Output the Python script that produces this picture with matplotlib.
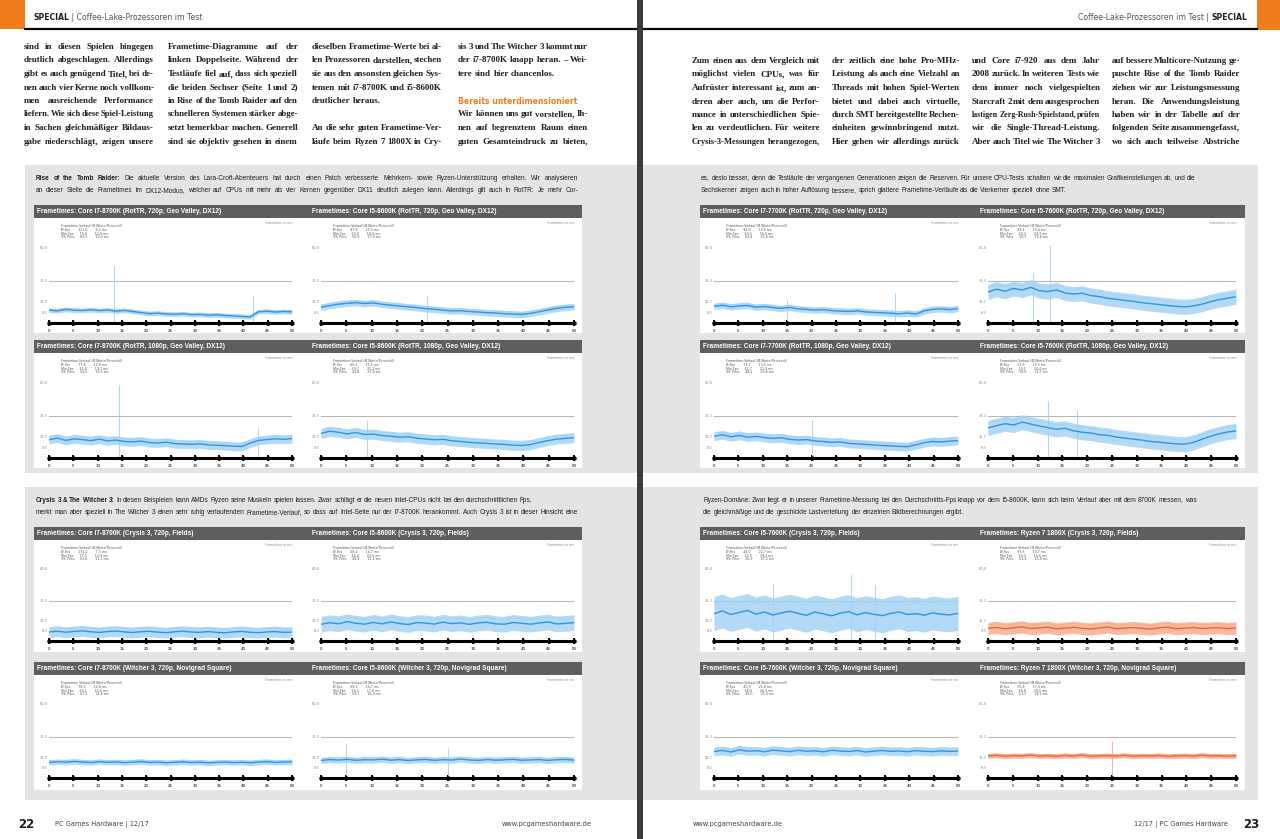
import matplotlib
matplotlib.use("Agg")
import matplotlib.pyplot as plt
from matplotlib.patches import Rectangle
import numpy as np

W, H = 1280, 839

# Colors
pcgh_orange = "#f07d1b"
bar_grey = "#5e5e5e"
box_grey = "#e4e4e4"
text_dark = "#1e1e1e"
blue_core = "#2f95e0"
blue_band = "#9fd0f4"
ryzen_core = "#ee6532"
ryzen_band = "#f7a88b"

# Frametimes in ms, 30 samples over the 50 s benchmark run
run_seconds = 50
time_ticks = [0, 5, 10, 15, 20, 25, 30, 35, 40, 45, 50]
ytick_ms = [8.3, 16.7, 33.3, 60.0]

rottr720_8700k = [10.2, 9.6, 10.8, 10.1, 9.9, 10.5, 9.8, 10.3, 9.4, 10.0, 9.1, 8.2, 7.4, 7.8, 7.1,
                  6.9, 7.3, 6.6, 6.8, 6.2, 6.5, 5.9, 5.6, 5.2, 4.8, 8.9, 9.3, 8.7, 9.1, 8.8]
rottr720_8600k = [12.5, 13.8, 14.9, 15.6, 16.2, 15.4, 15.9, 14.8, 14.1, 13.5, 12.8, 12.2, 11.4, 10.9, 10.2,
                  9.6, 9.8, 9.1, 8.7, 8.2, 7.9, 7.4, 7.1, 6.8, 7.6, 8.9, 10.3, 11.6, 12.4, 12.9]
rottr1080_8700k = [14.5, 15.8, 13.9, 15.2, 14.6, 13.8, 14.9, 13.6, 14.2, 13.1, 12.8, 13.4, 12.2, 11.9, 12.5,
                   11.4, 11.1, 10.8, 11.3, 10.4, 10.1, 9.8, 9.4, 9.1, 11.8, 13.9, 14.6, 15.2, 14.8, 15.4]
rottr1080_8600k = [19.5, 21.2, 20.4, 19.1, 20.2, 18.6, 18.9, 17.8, 17.2, 16.5, 16.9, 15.6, 15.1, 14.4, 14.8,
                   13.6, 13.1, 12.4, 12.0, 11.6, 11.1, 10.8, 10.2, 9.9, 10.6, 12.3, 13.8, 14.9, 15.6, 16.1]
rottr720_7700k = [13.2, 14.1, 12.8, 13.6, 13.9, 12.5, 13.1, 12.2, 11.6, 12.4, 11.2, 10.8, 10.2, 10.6, 9.8,
                  9.4, 9.1, 9.6, 8.8, 8.4, 8.1, 7.8, 7.3, 7.9, 7.1, 9.6, 10.8, 11.2, 10.6, 11.4]
rottr720_7600k = [24.5, 26.8, 25.2, 27.4, 26.1, 28.3, 25.6, 24.9, 26.2, 23.8, 22.9, 23.6, 21.8, 20.9, 19.6,
                  18.8, 17.9, 17.2, 16.1, 15.4, 14.6, 13.9, 13.2, 12.8, 13.5, 14.9, 16.8, 18.4, 19.6, 20.8]
rottr1080_7700k = [17.2, 18.4, 16.8, 17.9, 16.5, 17.1, 16.2, 15.6, 16.0, 14.8, 14.2, 14.6, 13.5, 13.1, 12.4,
                   12.8, 11.6, 11.2, 10.8, 10.4, 9.9, 9.6, 9.2, 9.0, 10.5, 12.2, 13.1, 12.7, 13.4, 13.8]
rottr1080_7600k = [23.8, 25.6, 27.2, 26.1, 28.4, 26.9, 25.3, 24.1, 22.8, 23.5, 21.6, 20.4, 19.8, 18.5, 17.9,
                   16.6, 15.8, 14.9, 14.2, 13.1, 12.6, 11.8, 11.2, 10.9, 12.4, 14.8, 17.2, 19.1, 20.6, 21.4]
crysis_8700k = [7.4, 8.1, 7.2, 7.9, 8.4, 7.6, 7.1, 7.8, 8.2, 7.5, 7.0, 7.7, 8.0, 7.3, 6.9,
                7.6, 8.1, 7.4, 7.2, 7.8, 7.1, 6.8, 7.5, 7.9, 7.2, 6.9, 7.4, 7.8, 7.1, 7.3]
crysis_8600k = [13.8, 15.1, 14.2, 16.0, 14.6, 13.9, 15.4, 14.1, 15.8, 14.4, 13.6, 15.2, 14.8, 13.9, 15.6,
                14.3, 15.0, 13.7, 14.9, 15.5, 14.2, 13.8, 15.3, 14.6, 13.9, 14.8, 15.7, 14.1, 14.5, 15.2]
crysis_7600k = [22.5, 24.8, 21.9, 23.6, 25.2, 22.1, 24.0, 21.4, 23.1, 24.6, 22.8, 21.2, 23.9, 22.4, 20.8,
                22.9, 24.3, 21.6, 23.4, 22.0, 20.9, 22.7, 24.1, 21.8, 22.6, 21.3, 23.2, 22.1, 21.5, 22.8]
crysis_1800x = [10.4, 11.2, 10.1, 10.9, 11.6, 10.3, 10.8, 11.4, 10.0, 10.7, 11.3, 10.5, 9.9, 10.8, 11.5,
                10.2, 10.6, 11.1, 10.4, 9.8, 10.9, 11.4, 10.1, 10.6, 11.2, 10.3, 10.7, 11.0, 10.2, 10.8]
witcher_8700k = [12.6, 13.1, 12.8, 13.4, 12.9, 12.5, 13.2, 12.7, 13.0, 12.4, 12.8, 13.3, 12.6, 12.9, 12.3,
                 12.7, 13.1, 12.5, 12.8, 12.2, 12.6, 12.9, 12.4, 12.7, 12.3, 12.8, 13.2, 12.6, 12.9, 13.1]
witcher_8600k = [14.2, 14.9, 14.5, 15.1, 14.3, 14.8, 14.6, 15.2, 14.4, 14.9, 14.1, 14.7, 15.0, 14.3, 14.8,
                 14.5, 15.3, 14.6, 14.2, 14.9, 14.4, 14.7, 15.1, 14.3, 14.6, 14.9, 14.2, 14.8, 15.0, 14.5]
witcher_7600k = [21.4, 22.3, 21.0, 22.8, 21.7, 22.1, 21.2, 22.6, 21.9, 21.3, 22.4, 21.6, 22.0, 21.1, 22.5,
                 21.8, 21.4, 22.2, 21.0, 21.7, 22.3, 21.5, 21.9, 21.2, 22.1, 21.6, 21.3, 22.0, 21.5, 21.8]
witcher_1800x = [17.8, 18.3, 17.6, 18.1, 17.9, 18.4, 17.7, 18.0, 17.5, 18.2, 17.8, 18.5, 17.6, 17.9, 18.1,
                 17.7, 18.3, 17.6, 18.0, 17.8, 18.2, 17.5, 17.9, 18.1, 17.7, 18.4, 17.8, 18.0, 17.6, 17.9]

# single frametime spikes: (second, ms)
spikes_rottr720_8700k = [(13.3, 45), (42.0, 21)]
spikes_rottr720_8600k = [(21.0, 22)]
spikes_rottr1080_8700k = [(14.5, 58), (43.0, 24)]
spikes_rottr1080_8600k = [(9.0, 30)]
spikes_rottr720_7700k = [(15.0, 18), (37.0, 24)]
spikes_rottr720_7600k = [(12.5, 62), (9.0, 40)]
spikes_rottr1080_7700k = [(20.0, 30)]
spikes_rottr1080_7600k = [(12.0, 45), (18.0, 38)]
spikes_crysis_7600k = [(12.0, 48), (28.0, 55), (33.0, 46)]
spikes_witcher_8600k = [(5.0, 28), (25.0, 24)]
spikes_witcher_1800x = [(25.0, 30)]

# ---------------------------------------------------------------- text
header_left = [("SPECIAL", "bold", text_dark), (" | Coffee-Lake-Prozessoren im Test", "normal", "#555555")]
header_right = [("Coffee-Lake-Prozessoren im Test | ", "normal", "#555555"), ("SPECIAL", "bold", text_dark)]

body_left = [
    ["sind in diesen Spielen hingegen",
     "deutlich abgeschlagen. Allerdings",
     "gibt es auch genügend Titel, bei de-",
     "nen auch vier Kerne noch vollkom-",
     "men ausreichende Performance",
     "liefern. Wie sich diese Spiel-Leistung",
     "in Sachen gleichmäßiger Bildaus-",
     "gabe niederschlägt, zeigen unsere"],
    ["Frametime-Diagramme auf der",
     "linken Doppelseite. Während der",
     "Testläufe fiel auf, dass sich speziell",
     "die beiden Sechser (Seite 1 und 2)",
     "in Rise of the Tomb Raider auf den",
     "schnelleren Systemen stärker abge-",
     "setzt bemerkbar machen. Generell",
     "sind sie objektiv gesehen in einem"],
    ["dieselben Frametime-Werte bei al-",
     "len Prozessoren darstellen, stechen",
     "sie aus den ansonsten gleichen Sys-",
     "temen mit i7-8700K und i5-8600K",
     "deutlicher heraus.",
     "",
     "An die sehr guten Frametime-Ver-",
     "läufe beim Ryzen 7 1800X in Cry-"],
    ["sis 3 und The Witcher 3 kommt nur",
     "der i7-8700K knapp heran. – Wei-",
     "tere sind hier chancenlos.",
     "",
     "#Bereits unterdimensioniert",
     "Wir können uns gut vorstellen, Ih-",
     "nen auf begrenztem Raum einen",
     "guten Gesamteindruck zu bieten,"],
]
body_right = [
    ["Zum einen aus dem Vergleich mit",
     "möglichst vielen CPUs, was für",
     "Aufrüster interessant ist, zum an-",
     "deren aber auch, um die Perfor-",
     "mance in unterschiedlichen Spie-",
     "len zu verdeutlichen. Für weitere",
     "Crysis-3-Messungen herangezogen,"],
    ["der zeitlich eine hohe Pro-MHz-",
     "Leistung als auch eine Vielzahl an",
     "Threads mit hohen Spiel-Werten",
     "bietet und dabei auch virtuelle,",
     "durch SMT bereitgestellte Rechen-",
     "einheiten gewinnbringend nutzt.",
     "Hier gehen wir allerdings zurück"],
    ["und Core i7-920 aus dem Jahr",
     "2008 zurück. In weiteren Tests wie",
     "dem immer noch vielgespielten",
     "Starcraft 2 mit dem ausgesprochen",
     "lastigen Zerg-Rush-Spielstand, prüfen",
     "wir die Single-Thread-Leistung.",
     "Aber auch Titel wie The Witcher 3"],
    ["auf bessere Multicore-Nutzung ge-",
     "puschte Rise of the Tomb Raider",
     "ziehen wir zur Leistungsmessung",
     "heran. Die Anwendungsleistung",
     "haben wir in der Tabelle auf der",
     "folgenden Seite zusammengefasst,",
     "wo sich auch teilweise Abstriche"],
]

cap_rottr_left = [
    [("Rise of the Tomb Raider:", "bold"),
     (" Die aktuelle Version des Lara-Croft-Abenteuers hat durch einen Patch verbesserte Mehrkern- sowie Ryzen-Unterstützung erhalten. Wir analysieren", "normal")],
    [("an dieser Stelle die Frametimes im DX12-Modus, welcher auf CPUs mit mehr als vier Kernen gegenüber DX11 deutlich zulegen kann. Allerdings gilt auch in RotTR: Je mehr Cor-", "normal")],
]
cap_rottr_right = [
    [("es, desto besser, denn die Testläufe der vergangenen Generationen zeigen die Reserven. Für unsere CPU-Tests schalten wir die maximalen Grafikeinstellungen ab, und die", "normal")],
    [("Sechskerner zeigen auch in hoher Auflösung bessere, sprich glattere Frametime-Verläufe als die Vierkerner speziell ohne SMT.", "normal")],
]
cap_crysis_left = [
    [("Crysis 3 & The Witcher 3:", "bold"),
     (" In diesen Beispielen kann AMDs Ryzen seine Muskeln spielen lassen. Zwar schlägt er die neuen Intel-CPUs nicht bei den durchschnittlichen Fps,", "normal")],
    [("merkt man aber speziell in The Witcher 3 einen sehr ruhig verlaufenden Frametime-Verlauf, so dass auf Intel-Seite nur der i7-8700K herankommt. Auch Crysis 3 ist in dieser Hinsicht eine", "normal")],
]
cap_crysis_right = [
    [("Ryzen-Domäne: Zwar liegt er in unserer Frametime-Messung bei den Durchschnitts-Fps knapp vor dem i5-8600K, kann sich beim Verlauf aber mit dem 8700K messen, was", "normal")],
    [("die gleichmäßige und die geschickte Lastverteilung der einzelnen Bildberechnungen ergibt.", "normal")],
]

# ---------------------------------------------------------------- figure
fig = plt.figure(figsize=(W / 100, H / 100), dpi=100)
fig.patch.set_facecolor("white")
bg = fig.add_axes([0, 0, 1, 1], zorder=0)
bg.set_xlim(0, W)
bg.set_ylim(H, 0)
bg.axis("off")
renderer = fig.canvas.get_renderer()


def rect(x0, y0, x1, y1, color, z=1):
    bg.add_patch(Rectangle((x0, y0), x1 - x0, y1 - y0, facecolor=color, edgecolor="none", zorder=z))


def width_of(artist):
    return artist.get_window_extent(renderer).width


def run(x, y, parts, size, family="DejaVu Sans", ha="left"):
    """Draw text pieces with different weights one after another."""
    arts = [bg.text(0, y, s, fontsize=size, family=family, weight=wt, color=col, va="center", zorder=5)
            for s, wt, col in parts]
    widths = [width_of(a) for a in arts]
    if ha == "right":
        x = x - sum(widths)
    for a, w in zip(arts, widths):
        a.set_x(x)
        x += w


def justify(x0, x1, y, segments, size, family, color=text_dark, min_fill=0.8):
    words = []
    for seg, wt in segments:
        for w in seg.split():
            words.append((w, wt))
    arts = [bg.text(x0, y, w, fontsize=size, family=family, weight=wt, color=color, va="center", zorder=5)
            for w, wt in words]
    space = size * 100 / 72 * 0.26
    widths = [width_of(a) for a in arts]
    while sum(widths) + 0.35 * space * (len(arts) - 1) > x1 - x0 and size > 2.5:
        size *= 0.98
        space = size * 100 / 72 * 0.26
        for a in arts:
            a.set_fontsize(size)
        widths = [width_of(a) for a in arts]
    natural = sum(widths) + space * (len(arts) - 1)
    if len(arts) > 1 and natural >= min_fill * (x1 - x0):
        gap = (x1 - x0 - sum(widths)) / (len(arts) - 1)
    else:
        gap = space
    x = x0
    for a, w in zip(arts, widths):
        a.set_x(x)
        x += w + gap


# page frame: orange corners, header rules, centre fold
rect(0, 0, 25, 29, pcgh_orange)
rect(1257, 0, W, 30, pcgh_orange)
bg.plot([25, 637], [29, 29], color="black", lw=1.6, zorder=2)
bg.plot([643, 1257], [29, 29], color="black", lw=1.6, zorder=2)
rect(637, 0, 643, H, "#3c3c3c", z=3)
run(33, 18, header_left, 5.6)
run(1247, 18, header_right, 5.6, ha="right")

# body text columns
cols_left = [(24, 154), (168, 298), (312, 442), (458, 588)]
cols_right = [(692, 820), (832, 960), (972, 1100), (1112, 1240)]
for (cx0, cx1), lines in zip(cols_left, body_left):
    for i, line in enumerate(lines):
        y = 47 + i * 13.5
        if line.startswith("#"):
            bg.text(cx0, y, line[1:], fontsize=5.6, family="DejaVu Sans", weight="bold",
                    color=pcgh_orange, va="center")
        elif line:
            justify(cx0, cx1, y, [(line, "bold")], 6.5, "Liberation Serif")
for (cx0, cx1), lines in zip(cols_right, body_right):
    for i, line in enumerate(lines):
        justify(cx0, cx1, 61 + i * 13.5, [(line, "bold")], 6.5, "Liberation Serif")

# grey info boxes
rect(25, 165, 637, 473, box_grey)
rect(25, 487, 637, 800, box_grey)
rect(643, 165, 1258, 473, box_grey)
rect(643, 487, 1258, 800, box_grey)

for lines, x0, x1, y0 in [(cap_rottr_left, 36, 578, 178), (cap_rottr_right, 701, 1243, 178),
                          (cap_crysis_left, 36, 578, 500), (cap_crysis_right, 703, 1243, 500)]:
    for i, segs in enumerate(lines):
        justify(x0, x1, y0 + i * 13, segs, 4.7, "Liberation Sans", min_fill=0.92)


def frametime_panel(x0, x1, y_top, y_axis, title_x, bar_y, title, vals, band, spikes, ryzen=False):
    core, light = (ryzen_core, ryzen_band) if ryzen else (blue_core, blue_band)
    bg.text(title_x, bar_y + 6.8, title, fontsize=4.7, family="Liberation Sans", weight="bold",
            color="white", va="center", zorder=5)

    ax = fig.add_axes([x0 / W, 1 - y_axis / H, (x1 - x0) / W, (y_axis - y_top) / H], zorder=2)
    ax.patch.set_alpha(0)
    t = np.linspace(0, run_seconds, len(vals))
    v = np.array(vals)
    ax.axhline(33.3, color="#b8b8b8", lw=0.8, zorder=0)
    for s_t, s_ms in spikes:
        ax.vlines(s_t, 0, s_ms, color=light, lw=0.6)
    ax.fill_between(t, np.clip(v - band, 0.8, None), v + band, color=light, alpha=0.8, lw=0)
    ax.plot(t, v + band * 0.6, color=light, lw=0.5)
    ax.plot(t, v, color=core, lw=1.0)
    ax.set_xlim(0, run_seconds)
    ax.set_ylim(0, 80)
    for side in ["top", "right", "left"]:
        ax.spines[side].set_visible(False)
    ax.spines["bottom"].set_linewidth(2.2)
    ax.set_xticks(time_ticks, [str(s) for s in time_ticks])
    ax.tick_params(axis="x", direction="inout", length=5, width=1.4, labelsize=2.9, pad=1.5)
    ax.plot(time_ticks, [0] * len(time_ticks), "o", color="black", ms=2.2, clip_on=False, zorder=6)
    ax.set_yticks(ytick_ms, [f"{m:.1f}".replace(".", ",") for m in ytick_ms])
    ax.tick_params(axis="y", length=0, labelsize=2.6, labelcolor="#8a8a8a", pad=1)

    # little value table in the corner
    avg = float(np.mean(v))
    worst = float(np.max(v + band))
    rows = ["Frametime-Verlauf (Ø-Werte/Perzentil)",
            f"Ø-Fps        {1000 / avg:.1f}        {avg:.1f} ms",
            f"Min-Fps      {1000 / worst:.1f}        {worst:.1f} ms",
            f"99. Perz.     {1000 / (worst * 0.95):.1f}        {worst * 0.95:.1f} ms"]
    for i, r in enumerate(rows):
        bg.text(x0 + 12, y_top + 4 + i * 3.8, r.replace(".", ","), fontsize=2.3, color="#555555",
                va="center", zorder=5)
    bg.text(x1, y_top + 1, "Frametime in ms", fontsize=2.3, color="#8a8a8a", ha="right", va="center", zorder=5)


# rows of panels: (bar top, axes top, axis line)
rows_y = [(205, 222, 323), (340, 357, 458), (527, 544, 641), (662, 679, 778)]
white_bottom = [333, 468, 652, 790]

left_panels = [
    [("Frametimes: Core i7-8700K (RotTR, 720p, Geo Valley, DX12)", rottr720_8700k, 1.8, spikes_rottr720_8700k, False),
     ("Frametimes: Core i5-8600K (RotTR, 720p, Geo Valley, DX12)", rottr720_8600k, 2.6, spikes_rottr720_8600k, False)],
    [("Frametimes: Core i7-8700K (RotTR, 1080p, Geo Valley, DX12)", rottr1080_8700k, 3.5, spikes_rottr1080_8700k, False),
     ("Frametimes: Core i5-8600K (RotTR, 1080p, Geo Valley, DX12)", rottr1080_8600k, 4.0, spikes_rottr1080_8600k, False)],
    [("Frametimes: Core i7-8700K (Crysis 3, 720p, Fields)", crysis_8700k, 4.5, [], False),
     ("Frametimes: Core i5-8600K (Crysis 3, 720p, Fields)", crysis_8600k, 6.5, [], False)],
    [("Frametimes: Core i7-8700K (Witcher 3, 720p, Novigrad Square)", witcher_8700k, 2.2, [], False),
     ("Frametimes: Core i5-8600K (Witcher 3, 720p, Novigrad Square)", witcher_8600k, 2.5, spikes_witcher_8600k, False)],
]
right_panels = [
    [("Frametimes: Core i7-7700K (RotTR, 720p, Geo Valley, DX12)", rottr720_7700k, 2.5, spikes_rottr720_7700k, False),
     ("Frametimes: Core i5-7600K (RotTR, 720p, Geo Valley, DX12)", rottr720_7600k, 6.0, spikes_rottr720_7600k, False)],
    [("Frametimes: Core i7-7700K (RotTR, 1080p, Geo Valley, DX12)", rottr1080_7700k, 3.5, spikes_rottr1080_7700k, False),
     ("Frametimes: Core i5-7600K (RotTR, 1080p, Geo Valley, DX12)", rottr1080_7600k, 6.0, spikes_rottr1080_7600k, False)],
    [("Frametimes: Core i5-7600K (Crysis 3, 720p, Fields)", crysis_7600k, 14.0, spikes_crysis_7600k, False),
     ("Frametimes: Ryzen 7 1800X (Crysis 3, 720p, Fields)", crysis_1800x, 5.0, [], True)],
    [("Frametimes: Core i5-7600K (Witcher 3, 720p, Novigrad Square)", witcher_7600k, 3.5, [], False),
     ("Frametimes: Ryzen 7 1800X (Witcher 3, 720p, Novigrad Square)", witcher_1800x, 2.0, spikes_witcher_1800x, True)],
]

# page geometry: bar span, (axes x0, x1, title x) for the two charts
pages = [
    ((34, 582), [(49, 292, 37), (321, 574, 312)], left_panels),
    ((700, 1245), [(714, 958, 703), (988, 1236, 980)], right_panels),
]
for (bx0, bx1), slots, panels in pages:
    for (bar_y, ax_top, ax_axis), wb, pair in zip(rows_y, white_bottom, panels):
        rect(bx0, bar_y, bx1, bar_y + 13, bar_grey, z=2)
        rect(bx0, bar_y + 13, bx1, wb, "white", z=2)
        for (px0, px1, tx), (title, vals, band, spikes, ryzen) in zip(slots, pair):
            frametime_panel(px0, px1, ax_top, ax_axis, tx, bar_y, title, vals, band, spikes, ryzen)

# footer
bg.text(18, 824, "22", fontsize=8.5, weight="bold", color=text_dark, va="center")
bg.text(55, 824, "PC Games Hardware | 12/17", fontsize=4.8, color="#444444", va="center")
bg.text(592, 824, "www.pcgameshardware.de", fontsize=4.8, color="#444444", va="center", ha="right")
bg.text(693, 824, "www.pcgameshardware.de", fontsize=4.8, color="#444444", va="center")
bg.text(1228, 824, "12/17 | PC Games Hardware", fontsize=4.8, color="#444444", va="center", ha="right")
bg.text(1259, 824, "23", fontsize=8.5, weight="bold", color=text_dark, va="center", ha="right")

fig.savefig("out.png", dpi=100)
